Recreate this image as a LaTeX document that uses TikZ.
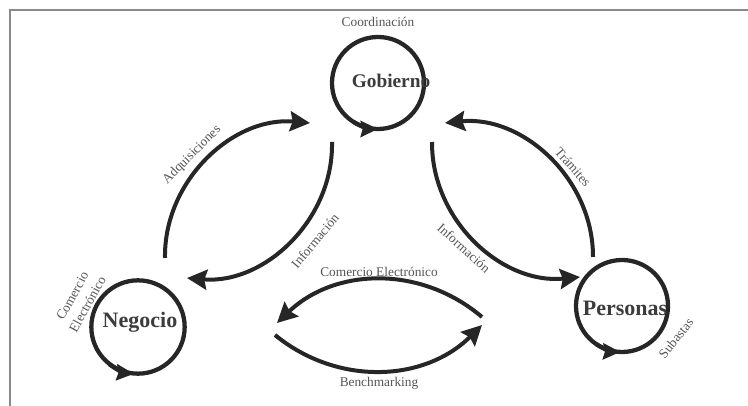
\documentclass[tikz,border=0pt]{standalone}
\usepackage{fontspec}
\setmainfont{Liberation Serif}
\usetikzlibrary{arrows.meta}
\definecolor{ink}{HTML}{262626}
\definecolor{lbl}{HTML}{555555}
\definecolor{frm}{HTML}{8A8A8A}
\tikzset{
  ring/.style={circle, draw=ink, line width=3.2pt, minimum size=#1, inner sep=0pt},
  bigtxt/.style={font=\bfseries\fontsize{#1}{#1}\selectfont, text=ink!90, inner sep=0pt},
  small/.style={font=\fontsize{10}{11}\selectfont, text=lbl, inner sep=0pt},
  flow/.style={draw=ink, line width=3pt, -{Stealth[length=15pt,width=15pt,inset=2pt]}},
  spin/.style={draw=ink, line width=3.2pt, -{Stealth[length=13pt,width=12pt,inset=1.5pt]}}
}
\begin{document}
\begin{tikzpicture}[x=0.75pt,y=0.75pt]
\useasboundingbox (0,0) rectangle (748,406);
% frame
\coordinate (f1) at (10,0);
\coordinate (f2) at (10,396);
\coordinate (f3) at (748,396);
\draw[frm, line width=1.2pt] (f1) -- (f2) -- (f3);

% circles
\node[ring=69pt] (gob) at (378,323) {};
\node[ring=70pt] (neg) at (138,79) {};
\node[ring=69pt] (per) at (622,100) {};
\draw[spin] (gob.center) ++(238:46) arc (238:270:46);
\draw[spin] (neg.center) ++(232:47) arc (232:265:47);
\draw[spin] (per.center) ++(236:46) arc (236:268:46);

% circle texts
\node[bigtxt=14.5] (tgob) at (391,325) {Gobierno};
\node[bigtxt=16.5] (tneg) at (140,84) {Negocio};
\node[bigtxt=16.5] (tper) at (625,98) {Personas};

\node[small] (coord) at (378,384) {Coordinación};
\node[small, rotate=61, align=center, font=\fontsize{10}{13}\selectfont] (ce) at (80,106) {Comercio\\Electrónico};
\node[small, rotate=51] (sub) at (676,68) {Subastas};

% arc end points
\coordinate (a1) at (165,148);
\coordinate (a2) at (310,283);
\coordinate (i1) at (332,264);
\coordinate (i2) at (187,128);
\coordinate (r1) at (432,264);
\coordinate (r2) at (580,129);
\coordinate (t1) at (593,149);
\coordinate (t2) at (445,283);
\coordinate (c1) at (482,89);
\coordinate (c2) at (277,83);
\coordinate (b1) at (275,71);
\coordinate (b2) at (482,81);

\draw[flow] (a1) to[bend left=48] (a2);
\draw[flow] (i1) to[bend left=48] (i2);
\draw[flow] (r1) to[bend right=48] (r2);
\draw[flow] (t1) to[bend right=48] (t2);
\draw[flow] (c1) to[bend right=42] (c2);
\draw[flow] (b1) to[bend right=42] (b2);

% labels
\node[small, rotate=45] (ladq) at (192,251) {Adquisiciones};
\node[small, rotate=50] (linfl) at (315,165) {Información};
\node[small, rotate=-42] (linfr) at (464,158) {Información};
\node[small, rotate=-49] (ltra) at (573,239) {Trámites};
\node[small] (lce) at (379,134) {Comercio Electrónico};
\node[small] (lben) at (379,23) {Benchmarking};
\end{tikzpicture}
\end{document}
